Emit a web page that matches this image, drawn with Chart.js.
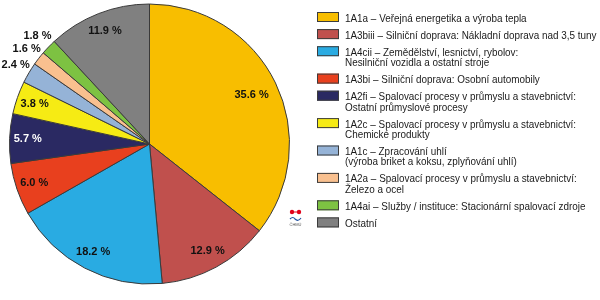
<!DOCTYPE html>
<html>
<head>
<meta charset="utf-8">
<script src="https://cdn.jsdelivr.net/npm/chart.js@4.4.1/dist/chart.umd.min.js"></script>
<style>
  html, body { margin: 0; padding: 0; background: #ffffff; }
  #wrap { position: relative; width: 600px; height: 300px; }
  canvas { display: block; }
</style>
</head>
<body>
<div id="wrap"><canvas id="c" width="600" height="300"></canvas></div>
<script>
// ---- data ----
const categories = [
  ["1A1a – Veřejná energetika a výroba tepla"],
  ["1A3biii – Silniční doprava: Nákladní doprava nad 3,5 tuny"],
  ["1A4cii – Zemědělství, lesnictví, rybolov:", "Nesilniční vozidla a ostatní stroje"],
  ["1A3bi – Silniční doprava: Osobní automobily"],
  ["1A2fi – Spalovací procesy v průmyslu a stavebnictví:", "Ostatní průmyslové procesy"],
  ["1A2c – Spalovací procesy v průmyslu a stavebnictví:", "Chemické produkty"],
  ["1A1c – Zpracování uhlí", "(výroba briket a koksu, zplyňování uhlí)"],
  ["1A2a – Spalovací procesy v průmyslu a stavebnictví:", "Železo a ocel"],
  ["1A4ai – Služby / instituce: Stacionární spalovací zdroje"],
  ["Ostatní"]
];
const shares = [35.6, 12.9, 18.2, 6.0, 5.7, 3.8, 2.4, 1.6, 1.8, 11.9];
const colors = ["#F8BE00", "#C0504D", "#29ABE2", "#E8401E", "#2A2962", "#F6EB14", "#95B3D7", "#F9C08F", "#7DC242", "#808080"];

// ---- helpers ----
function isDark(hex) {
  const r = parseInt(hex.substr(1, 2), 16), g = parseInt(hex.substr(3, 2), 16), b = parseInt(hex.substr(5, 2), 16);
  return (0.299 * r + 0.587 * g + 0.114 * b) < 110;
}

const sliceLabels = {
  id: 'sliceLabels',
  afterDatasetsDraw(chart) {
    const ctx = chart.ctx;
    const meta = chart.getDatasetMeta(0);
    ctx.save();
    ctx.font = 'bold 11px "Liberation Sans", Arial, sans-serif';
    ctx.textAlign = 'center';
    ctx.textBaseline = 'middle';
    meta.data.forEach((arc, i) => {
      const v = shares[i];
      const mid = (arc.startAngle + arc.endAngle) / 2;
      const outside = v < 3;
      const rr = outside ? arc.outerRadius * 1.11 : arc.outerRadius * (v > 30 ? 0.81 : 0.87);
      const x = arc.x + Math.cos(mid) * rr;
      const y = arc.y + Math.sin(mid) * rr;
      ctx.fillStyle = (!outside && isDark(colors[i])) ? '#ffffff' : '#111111';
      ctx.fillText(v.toFixed(1) + ' %', x, y);
    });
    ctx.restore();
  }
};

const customLegend = {
  id: 'customLegend',
  afterDraw(chart) {
    const ctx = chart.ctx;
    ctx.save();
    const sx = 317, sw = 22, sh = 10, tx = 345, lineH = 10.3, gap = 6.8;
    let y = 12;
    ctx.textBaseline = 'middle';
    ctx.textAlign = 'left';
    categories.forEach((lines, i) => {
      ctx.fillStyle = colors[i];
      ctx.fillRect(sx, y, sw, sh);
      ctx.strokeStyle = '#3c3c3c';
      ctx.lineWidth = 1;
      ctx.strokeRect(sx + 0.5, y + 0.5, sw - 1, sh - 1);
      ctx.fillStyle = '#1a1a1a';
      ctx.font = '11px "Liberation Sans", Arial, sans-serif';
      lines.forEach((t, k) => {
        ctx.save();
        ctx.translate(tx, y + sh / 2 + 1.5 + k * lineH);
        ctx.scale(0.9, 1);
        ctx.fillText(t, 0, 0);
        ctx.restore();
      });
      y += lines.length * lineH + gap;
    });
    // small ČHMÚ mark
    ctx.fillStyle = '#e2001a';
    ctx.beginPath(); ctx.arc(292, 212, 2.2, 0, Math.PI * 2); ctx.fill();
    ctx.beginPath(); ctx.arc(299, 212, 2.2, 0, Math.PI * 2); ctx.fill();
    ctx.fillRect(292, 211.5, 7, 1);
    ctx.strokeStyle = '#1f4fa0';
    ctx.lineWidth = 1.2;
    ctx.beginPath();
    ctx.moveTo(290, 219); ctx.quadraticCurveTo(293, 216, 295, 219); ctx.quadraticCurveTo(298, 222, 301, 218);
    ctx.stroke();
    ctx.fillStyle = '#555';
    ctx.font = '4px "Liberation Sans", Arial, sans-serif';
    ctx.textAlign = 'center';
    ctx.fillText('ČHMÚ', 295.5, 225);
    ctx.restore();
  }
};

new Chart(document.getElementById('c'), {
  type: 'pie',
  data: {
    labels: categories.map(l => l.join(' ')),
    datasets: [{
      data: shares,
      backgroundColor: colors,
      borderColor: '#3a3a3a',
      borderWidth: 1
    }]
  },
  options: {
    responsive: false,
    animation: false,
    layout: { padding: { left: 9, top: 3, right: 310, bottom: 15 } },
    plugins: { legend: { display: false }, tooltip: { enabled: false } }
  },
  plugins: [sliceLabels, customLegend]
});
</script>
</body>
</html>
